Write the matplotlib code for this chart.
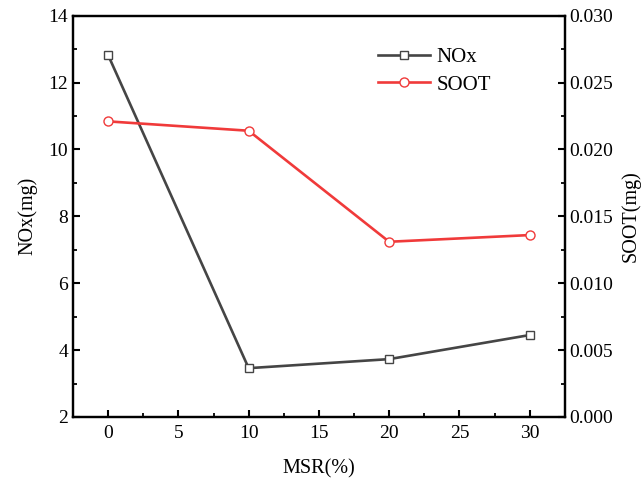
import matplotlib
matplotlib.use("Agg")
import matplotlib.pyplot as plt
from matplotlib.ticker import MultipleLocator, FormatStrFormatter

plt.rcParams['font.family'] = ['Liberation Serif', 'DejaVu Serif']
plt.rcParams['font.size'] = 14

msr = [0, 10, 20, 30]
nox = [12.82, 3.46, 3.73, 4.45]
soot = [0.0221, 0.0214, 0.0131, 0.0136]

fig = plt.figure(figsize=(6.44, 4.82), dpi=100)
ax = fig.add_axes([0.1134, 0.1349, 0.7636, 0.8325])
ax2 = ax.twinx()

l1, = ax.plot(msr, nox, color='#454545', lw=1.9, marker='s', ms=5.5,
              mfc='white', mec='#454545', mew=1.0, label='NOx')
l2, = ax2.plot(msr, soot, color='#f03a3a', lw=1.9, marker='o', ms=6.5,
               mfc='white', mec='#f03a3a', mew=1.0, label='SOOT')

ax.set_xlim(-2.5, 32.5)
ax.set_ylim(2, 14)
ax2.set_ylim(0, 0.030)

ax.xaxis.set_major_locator(MultipleLocator(5))
ax.xaxis.set_minor_locator(MultipleLocator(2.5))
ax.yaxis.set_major_locator(MultipleLocator(2))
ax.yaxis.set_minor_locator(MultipleLocator(1))
ax2.yaxis.set_major_locator(MultipleLocator(0.005))
ax2.yaxis.set_minor_locator(MultipleLocator(0.0025))
ax2.yaxis.set_major_formatter(FormatStrFormatter('%.3f'))

for a in (ax, ax2):
    for s in a.spines.values():
        s.set_linewidth(1.6)
    a.tick_params(which='major', direction='in', length=5, width=1.5, labelsize=14)
    a.tick_params(which='minor', direction='in', length=3, width=1.3)

ax.tick_params(axis='x', which='both', top=False, pad=6)
ax.tick_params(axis='y', which='both', right=False)
ax2.tick_params(axis='y', which='both', left=False, right=True)

ax.set_xlabel('MSR(%)', labelpad=12, fontsize=14.5)
ax.set_ylabel('NOx(mg)', labelpad=8, fontsize=14.5)
ax2.set_ylabel('SOOT(mg)', labelpad=5, fontsize=14.5)

ax2.legend([l1, l2], ['NOx', 'SOOT'], loc='upper left',
           bbox_to_anchor=(0.558, 0.94), bbox_transform=fig.transFigure,
           frameon=False, handlelength=2.5, handletextpad=0.3,
           labelspacing=0.38, fontsize=15)

fig.savefig('out.png', dpi=100)
